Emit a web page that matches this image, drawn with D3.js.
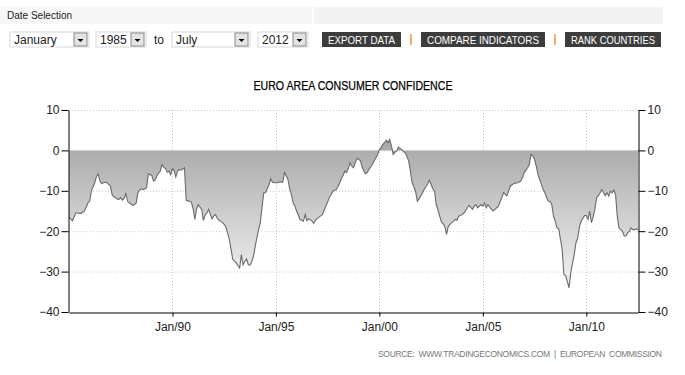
<!DOCTYPE html>
<meta charset="utf-8">
<style>
body { margin: 0; background: #fff; }
svg text { font-family: "Liberation Sans", Arial, sans-serif; }
.grid line { stroke: #c8c8c8; stroke-dasharray: 1,2; }
.axis path, .axis line { stroke: #000; }
.axis text { font-size: 12px; fill: #222; }
</style>
<svg width="685" height="375"></svg>
<script src="https://d3js.org/d3.v7.min.js"></script>
<script>

// monthly readings, Jan 1985 .. Jul 2012
var startYear = 1985, endYear = 2012, endMonth = 6;
var values = [
  -16.5, -17, -17.4, -16.5, -15.5, -15.5, -15.6, -15.6, -15.3, -15, -14, -13,        // 1985
  -12.6, -10, -9, -8, -6.5, -5.8, -7.6, -8.2, -8, -7.9, -8, -8.4,                    // 1986
  -8.8, -10.9, -11.5, -11.7, -12, -12.1, -11.7, -12.3, -11.9, -10.7, -12.6, -13,     // 1987
  -13.2, -13.6, -13.4, -13, -10.5, -9.8, -9.5, -9.7, -9.5, -9.3, -5.8, -6,           // 1988
  -6.2, -7.6, -7.3, -6.4, -5.6, -5.1, -3.5, -4.2, -4.5, -5.4, -5.1, -6,              // 1989
  -4.5, -5.1, -6.6, -5.2, -4.7, -4.9, -4.6, -4.3, -12.4, -12.5, -12.6, -12.8,        // 1990
  -14.5, -17.1, -14.5, -13.4, -14, -14.6, -17.3, -16, -15.5, -14.6, -15.8, -16.9,    // 1991
  -16.2, -15.9, -16.8, -17.3, -17.5, -17.9, -18.3, -18.9, -20.5, -22, -24.5, -27,    // 1992
  -27.4, -27.9, -28.5, -29.1, -25.8, -28.3, -27.5, -26.9, -28.3, -28.4, -27.5, -26.2,// 1993
  -23.7, -21.5, -19.6, -17.9, -14, -10.5, -10.5, -9.5, -8.5, -7, -7.9, -8,           // 1994
  -8, -8, -7.8, -7.8, -7.9, -5.5, -6.2, -7.2, -9.5, -10.9, -13, -13.8,               // 1995
  -15, -16, -17.1, -17.3, -17.5, -15.9, -17.4, -16.9, -17.2, -17.5, -18.1, -17.2,    // 1996
  -16.9, -16.5, -16.2, -15.9, -14.8, -13.8, -12.8, -11.7, -11, -10.1, -9.9, -9.7,    // 1997
  -9, -8, -7, -6.2, -5.1, -5.5, -4.5, -3.1, -3.9, -4.3, -3.1, -2,                    // 1998
  -2.2, -2.6, -4, -5.1, -5.8, -5.5, -4.7, -4.1, -3.5, -2.6, -1.8, -1,                // 1999
  0.2, 0.7, 1.5, 1.9, 2.5, 1.9, 2.7, 1.1, -1, -0.5, -0.2, 0.8,                       // 2000
  0.5, 0.2, -0.3, -0.6, -1.5, -2.6, -5.1, -8, -9, -10.1, -12.6, -12,                 // 2001
  -11.3, -10.5, -9.7, -9, -8.3, -7.4, -8.4, -9.5, -10.1, -13.4, -14.8, -16.3,        // 2002
  -17.7, -18.2, -18.8, -20.8, -18.8, -18.3, -17.9, -17.5, -17.1, -17.3, -16.3, -16.1,// 2003
  -15.9, -15.5, -15, -14.2, -13.6, -14.1, -14.6, -13.8, -13.4, -14.2, -13.8, -13.4,  // 2004
  -13.8, -13, -14.2, -13.4, -14, -14.6, -15, -14.6, -14.2, -13.8, -12.7, -11.7,      // 2005
  -10.5, -10.9, -11.3, -10, -8.8, -8.5, -8.2, -8.1, -8, -7.8, -7.6, -6.8,            // 2006
  -5.5, -4.9, -4.3, -3.5, -1, -1.4, -2.2, -3.9, -6, -7.2, -8.4, -9.7,                // 2007
  -10.5, -11.7, -12.6, -12.6, -13.4, -16.3, -17.5, -19.2, -19.4, -22, -24.5, -30.7,  // 2008
  -31, -32.5, -34, -30.3, -28, -25.8, -22.9, -21.7, -18.9, -17.5, -16.8, -16.1,      // 2009
  -16.1, -17.1, -15, -17.9, -16.5, -14.6, -11.7, -11.2, -10.5, -9.7, -10.5, -11.2,   // 2010
  -10.5, -11.3, -10.1, -10.5, -9.8, -10.9, -16.3, -19.2, -19.6, -20, -21.2, -21.2,   // 2011
  -20.4, -20, -19.2, -19.6, -19.6, -19.4, -19.7                                      // 2012
];
var yTicks = [10, 0, -10, -20, -30, -40];
var xTickYears = [1990, 1995, 2000, 2005, 2010];

var titleText = "EURO AREA CONSUMER CONFIDENCE";
var sourceText = "SOURCE:  WWW.TRADINGECONOMICS.COM  |  EUROPEAN  COMMISSION";
var selects = [["January", 10, 79], ["1985", 96, 50], ["July", 172, 78], ["2012", 258, 50]];
var buttons = [["EXPORT DATA", 322, 79], ["COMPARE INDICATORS", 421, 124], ["RANK COUNTRIES", 565, 96]];

var data = values.map(function(v, i) {
  return {date: new Date(startYear, i, 1), value: v};
});

var svg = d3.select("svg");

// ---- top controls
svg.append("rect").attr("x", 0).attr("y", 7).attr("width", 312).attr("height", 17).attr("fill", "#f7f7f7");
svg.append("rect").attr("x", 314).attr("y", 7).attr("width", 349).attr("height", 17).attr("fill", "#f3f3f3");
svg.append("text").attr("x", 7).attr("y", 19).attr("font-size", 10).attr("fill", "#222").text("Date Selection");

var sel = svg.selectAll(".sel").data(selects).enter().append("g")
    .attr("transform", function(d) { return "translate(" + d[1] + ",32)"; });
sel.append("rect").attr("width", function(d) { return d[2]; }).attr("height", 15)
    .attr("fill", "#fff").attr("stroke", "#d8d8d8");
sel.append("text").attr("x", 4).attr("y", 12).attr("font-size", 12).attr("fill", "#222")
    .text(function(d) { return d[0]; });
sel.append("rect").attr("x", function(d) { return d[2] - 15; }).attr("y", 1).attr("width", 13).attr("height", 13)
    .attr("fill", "#e4e4e4").attr("stroke", "#8a8a8a");
sel.append("path").attr("fill", "#000")
    .attr("d", function(d) { var x = d[2] - 8.5; return "M" + (x - 3) + ",7 h6 l-3,3 z"; });
svg.append("text").attr("x", 154).attr("y", 44).attr("font-size", 12).attr("fill", "#222").text("to");

var btn = svg.selectAll(".btn").data(buttons).enter().append("g")
    .attr("transform", function(d) { return "translate(" + d[1] + ",32)"; });
btn.append("rect").attr("width", function(d) { return d[2]; }).attr("height", 15).attr("fill", "#3c3c3c");
btn.append("text").attr("x", function(d) { return d[2] / 2; }).attr("y", 11.5)
    .attr("text-anchor", "middle").attr("font-size", 10.5).attr("fill", "#fff")
    .attr("textLength", function(d) { return d[2] - 12; }).attr("lengthAdjust", "spacingAndGlyphs")
    .text(function(d) { return d[0]; });
[411, 555].forEach(function(x) {
  svg.append("line").attr("x1", x).attr("x2", x).attr("y1", 34).attr("y2", 45)
      .attr("stroke", "#e49a3a").attr("stroke-width", 1.5);
});

// ---- chart
var margin = {left: 69, right: 638, top: 110, bottom: 312};
var x = d3.scaleTime()
    .domain([new Date(startYear, 0, 1), new Date(endYear, endMonth, 1)])
    .range([margin.left, margin.right]);
var y = d3.scaleLinear().domain([-40, 10]).range([margin.bottom, margin.top]);

svg.append("text").attr("x", 353).attr("y", 90).attr("text-anchor", "middle")
    .attr("font-size", 12.5).attr("fill", "#000").attr("stroke", "#000").attr("stroke-width", 0.25)
    .attr("textLength", 199).attr("lengthAdjust", "spacingAndGlyphs").text(titleText);

var grad = svg.append("defs").append("linearGradient").attr("id", "fillGrad")
    .attr("gradientUnits", "userSpaceOnUse")
    .attr("x1", 0).attr("x2", 0).attr("y1", y(10)).attr("y2", y(-40));
grad.append("stop").attr("offset", 0).attr("stop-color", "#989898");
grad.append("stop").attr("offset", 1).attr("stop-color", "#ffffff");

var xTicks = xTickYears.map(function(yr) { return new Date(yr, 0, 1); });

var grid = svg.append("g").attr("class", "grid");
grid.selectAll(".h").data(yTicks.filter(function(t) { return t > -40; })).enter().append("line")
    .attr("x1", margin.left).attr("x2", margin.right)
    .attr("y1", function(d) { return y(d) + 0.5; }).attr("y2", function(d) { return y(d) + 0.5; });
grid.selectAll(".v").data(xTicks).enter().append("line")
    .attr("x1", function(d) { return Math.round(x(d)) + 0.5; }).attr("x2", function(d) { return Math.round(x(d)) + 0.5; })
    .attr("y1", margin.top).attr("y2", margin.bottom);

var area = d3.area()
    .x(function(d) { return x(d.date); })
    .y0(y(0))
    .y1(function(d) { return y(d.value); });
var line = d3.line()
    .x(function(d) { return x(d.date); })
    .y(function(d) { return y(d.value); });

svg.append("path").datum(data).attr("d", area).attr("fill", "url(#fillGrad)");
svg.append("path").datum(data).attr("d", line)
    .attr("fill", "none").attr("stroke", "#6a6a6a").attr("stroke-width", 1.1);

svg.append("g").attr("class", "axis")
    .attr("transform", "translate(" + (margin.left - 0.5) + ",0)")
    .call(d3.axisLeft(y).tickValues(yTicks).tickSize(7).tickPadding(2).tickSizeOuter(0));
svg.append("g").attr("class", "axis")
    .attr("transform", "translate(" + (margin.right + 0.5) + ",0)")
    .call(d3.axisRight(y).tickValues(yTicks).tickSize(7).tickPadding(2).tickSizeOuter(0));
svg.append("g").attr("class", "axis")
    .attr("transform", "translate(0," + (margin.bottom + 0.5) + ")")
    .call(d3.axisBottom(x).tickValues(xTicks).tickSize(4).tickPadding(6).tickSizeOuter(0)
      .tickFormat(d3.timeFormat("Jan/%y")));

svg.append("text").attr("x", 662).attr("y", 357).attr("text-anchor", "end")
    .attr("font-size", 8.5).attr("fill", "#777").style("white-space", "pre")
    .attr("textLength", 284).attr("lengthAdjust", "spacing")
    .text(sourceText);

</script>
